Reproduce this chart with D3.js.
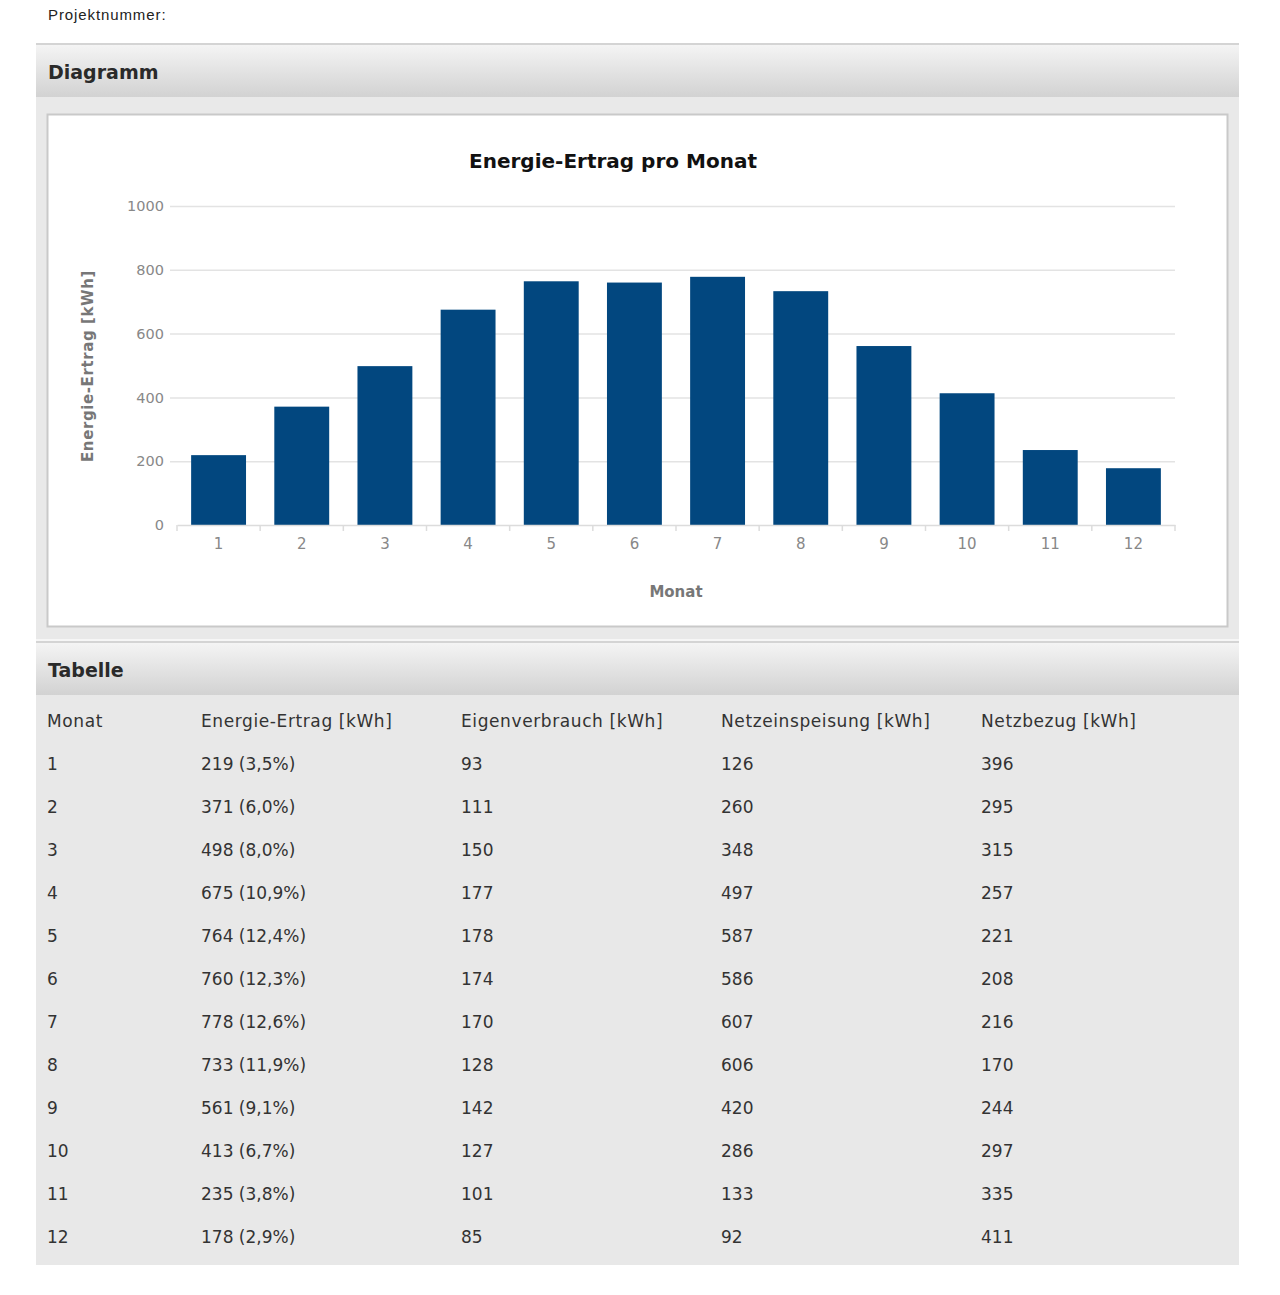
<!DOCTYPE html>
<html>
<head>
<meta charset="utf-8">
<script src="https://cdn.jsdelivr.net/npm/d3@7"></script>
<style>
body { margin:0; background:#fff; }
svg text { font-family: "DejaVu Sans", Verdana, sans-serif; }
</style>
</head>
<body>
<svg id="page" width="1280" height="1295"></svg>
<script>
// data
var months = [1,2,3,4,5,6,7,8,9,10,11,12];
var ertrag = [219,371,498,675,764,760,778,733,561,413,235,178];
var anteil = [3.5,6.0,8.0,10.9,12.4,12.3,12.6,11.9,9.1,6.7,3.8,2.9];
var eigenverbrauch = [93,111,150,177,178,174,170,128,142,127,101,85];
var netzeinspeisung = [126,260,348,497,587,586,607,606,420,286,133,92];
var netzbezug = [396,295,315,257,221,208,216,170,244,297,335,411];
var yTicks = [0,200,400,600,800,1000];
var columns = ["Monat","Energie-Ertrag [kWh]","Eigenverbrauch [kWh]","Netzeinspeisung [kWh]","Netzbezug [kWh]"];

var svg = d3.select('#page');

var defs = svg.append('defs');
var grad = defs.append('linearGradient').attr('id','hdr').attr('x1',0).attr('y1',0).attr('x2',0).attr('y2',1);
grad.append('stop').attr('offset','0%').attr('stop-color','#f4f4f4');
grad.append('stop').attr('offset','100%').attr('stop-color','#d2d2d2');

svg.append('text').attr('x',48).attr('y',20)
	.style('font-family','"Liberation Sans", Arial, sans-serif').style('font-size','15px')
	.style('letter-spacing','0.9px').attr('fill','#222').text('Projektnummer:');

function header(y, label) {
	svg.append('rect').attr('x',36).attr('y',y-2).attr('width',1203).attr('height',2).attr('fill','#d4d4d4');
	svg.append('rect').attr('x',36).attr('y',y).attr('width',1203).attr('height',52).attr('fill','url(#hdr)');
	svg.append('text').attr('x',48).attr('y',y+34)
		.style('font-size','19px').style('font-weight','bold').attr('fill','#2a2a2a').text(label);
}

header(45, 'Diagramm');

// chart panel
svg.append('rect').attr('x',36).attr('y',97).attr('width',1203).attr('height',544).attr('fill','#e9e9e9');
svg.append('rect').attr('x',47.5).attr('y',114.5).attr('width',1180).attr('height',512)
	.attr('fill','#fff').attr('stroke','#c9c9c9').attr('stroke-width',2);

var x = d3.scaleBand().domain(months).range([177, 1175]).paddingInner(0.34).paddingOuter(0.17);
var y = d3.scaleLinear().domain([0,1000]).range([525, 206]);

var g = svg.append('g');

// grid
g.selectAll('line.grid').data(yTicks.slice(1)).enter().append('line')
	.attr('x1',170).attr('x2',1175)
	.attr('y1',function(d){return y(d)+0.5;}).attr('y2',function(d){return y(d)+0.5;})
	.attr('stroke','#e3e3e3').attr('stroke-width',1.5);

// y axis
var yAxis = g.append('g').attr('transform','translate(170,0)')
	.call(d3.axisLeft(y).tickValues(yTicks).tickFormat(d3.format('d')).tickSize(0).tickPadding(6));
yAxis.select('.domain').remove();
yAxis.selectAll('text').attr('fill','#888').style('font-size','14.5px').style('font-family','"DejaVu Sans", Verdana, sans-serif');

// bars
g.selectAll('rect.bar').data(ertrag).enter().append('rect')
	.attr('class','bar')
	.attr('x',function(d,i){return x(months[i]);})
	.attr('width',x.bandwidth())
	.attr('y',function(d){return y(d);})
	.attr('height',function(d){return y(0)-y(d);})
	.attr('fill','#02477f');

// x axis
var xAxis = g.append('g').attr('transform','translate(0,525)')
	.call(d3.axisBottom(x).tickSize(0).tickPadding(13));
xAxis.select('.domain').attr('stroke','#dcdcdc').attr('stroke-width',1.5);
xAxis.selectAll('text').attr('fill','#888').style('font-size','15px').style('font-family','"DejaVu Sans", Verdana, sans-serif');
// boundary ticks
var bounds = months.map(function(m){return x(m) - x.step()*x.paddingInner()/2;});
bounds.push(1175);
g.selectAll('line.btick').data(bounds).enter().append('line')
	.attr('x1',function(d){return d;}).attr('x2',function(d){return d;})
	.attr('y1',525).attr('y2',531).attr('stroke','#dcdcdc').attr('stroke-width',1.5);

// titles
svg.append('text').attr('x',613).attr('y',168).attr('text-anchor','middle')
	.style('font-size','20px').style('font-weight','bold').attr('fill','#111').text('Energie-Ertrag pro Monat');
svg.append('text').attr('x',676).attr('y',597).attr('text-anchor','middle')
	.style('font-size','15px').style('font-weight','bold').attr('fill','#777').text('Monat');
svg.append('text').attr('transform','translate(93,366) rotate(-90)').attr('text-anchor','middle')
	.style('font-size','15px').style('font-weight','bold').style('letter-spacing','0.6px')
	.attr('fill','#777').text('Energie-Ertrag [kWh]');

// table
svg.append('rect').attr('x',36).attr('y',639).attr('width',1203).attr('height',2).attr('fill','#f6f6f6');
header(643, 'Tabelle');
svg.append('rect').attr('x',36).attr('y',695).attr('width',1203).attr('height',570).attr('fill','#e8e8e8');

var colX = [47, 201, 461, 721, 981];
var fmt = function(v){return v.toFixed(1).replace('.', ',');};
var rows = months.map(function(m,i){
	return [String(m), ertrag[i] + ' (' + fmt(anteil[i]) + '%)', String(eigenverbrauch[i]), String(netzeinspeisung[i]), String(netzbezug[i])];
});
var rowY = d3.scaleLinear().domain([0,12]).range([727, 1243]);

var tbl = svg.append('g').style('font-family','"Liberation Sans", Arial, sans-serif').style('font-size','17px');
tbl.selectAll('text.head').data(columns).enter().append('text')
	.attr('x',function(d,i){return colX[i];}).attr('y',rowY(0))
	.attr('fill','#333').style('letter-spacing','0.6px').text(function(d){return d;});
rows.forEach(function(r,ri){
	tbl.selectAll('text.r'+ri).data(r).enter().append('text')
		.attr('x',function(d,i){return colX[i];}).attr('y',rowY(ri+1))
		.attr('fill','#333').text(function(d){return d;});
});
</script>
</body>
</html>
